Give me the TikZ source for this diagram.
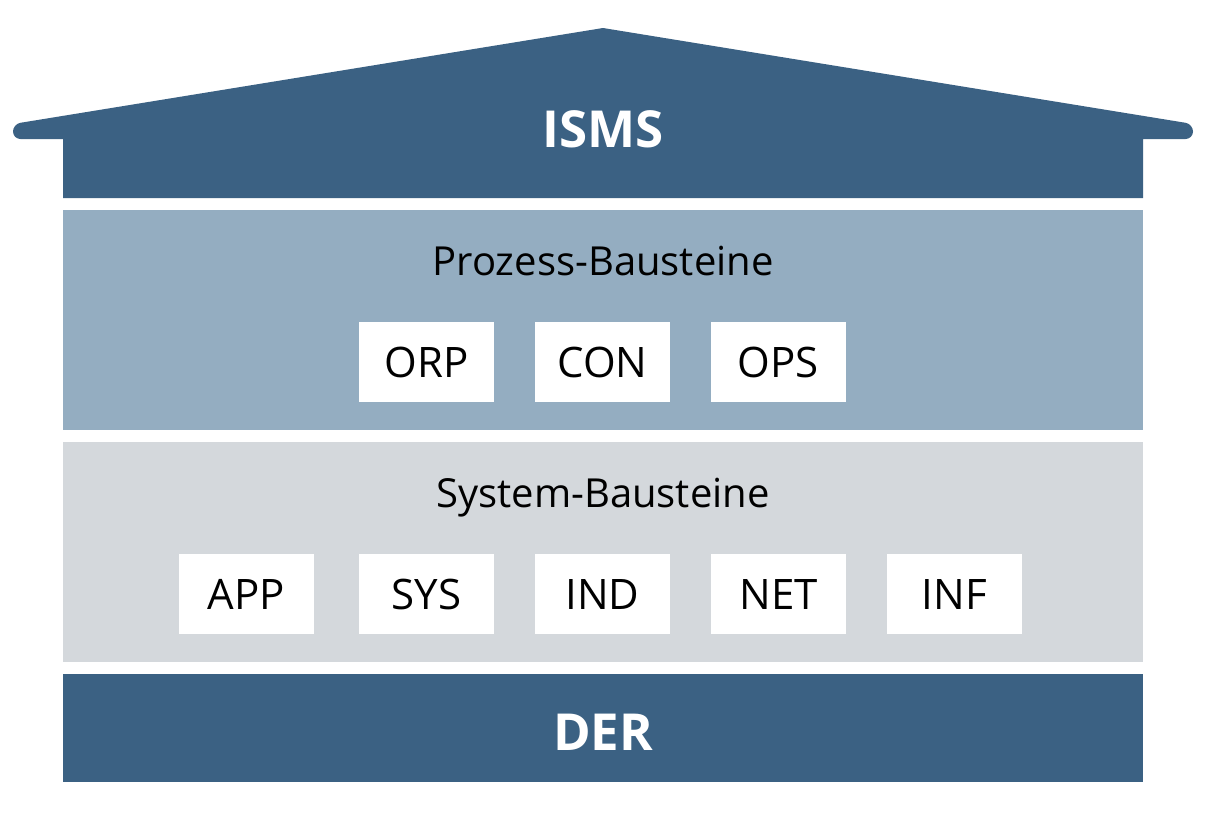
\documentclass[tikz,border=0pt]{standalone}
\usepackage{fontspec}
\setmainfont{Open Sans}
\definecolor{ismsblue}{HTML}{3B6183}
\definecolor{prozblue}{HTML}{94ADC1}
\definecolor{sysgray}{HTML}{D4D8DC}

\begin{document}
\begin{tikzpicture}[x=1pt, y=-1pt,
    box/.style={fill=white, minimum width=135pt, minimum height=80pt, inner sep=0pt, font=\fontsize{42}{48}\selectfont},
    title/.style={anchor=base, inner sep=0pt, font=\fontsize{40}{46}\selectfont},
    head/.style={anchor=base, inner sep=0pt, text=white, font=\fontsize{51}{56}\selectfont\bfseries}]

    \useasboundingbox (0,0) rectangle (1218,814);

    % Roof and ISMS block
    \fill[ismsblue] (63,198) -- (63,139) -- (25,139) [rounded corners=7.5pt] -- (13,139) -- (13,124) [sharp corners] -- (603,28)
        [rounded corners=7.5pt] -- (1193,124) -- (1193,139) [sharp corners] -- (1143,139) -- (1143,198) -- cycle;
    \node[head] (isms) at (603,147) {ISMS};

    % Prozess-Bausteine
    \fill[prozblue] (63,210) rectangle (1143,430); % layer
    \node[title] (proz) at (603,275) {Prozess-Bausteine};
    \node[box] (orp) at (426.5,362) {ORP};
    \node[box] (con) at (602.5,362) {CON};
    \node[box] (ops) at (778.5,362) {OPS};

    % System-Bausteine
    \fill[sysgray] (63,442) rectangle (1143,662); % layer
    \node[title] (sys) at (603,507) {System-Bausteine};
    \node[box] (app) at (246.5,594) {APP};
    \node[box] (sysb) at (426.5,594) {SYS};
    \node[box] (ind) at (602.5,594) {IND};
    \node[box] (net) at (778.5,594) {NET};
    \node[box] (inf) at (954.5,594) {INF};

    % DER
    \fill[ismsblue] (63,674) rectangle (1143,782); % layer
    \node[head] (der) at (603,750) {DER};

\end{tikzpicture}
\end{document}
